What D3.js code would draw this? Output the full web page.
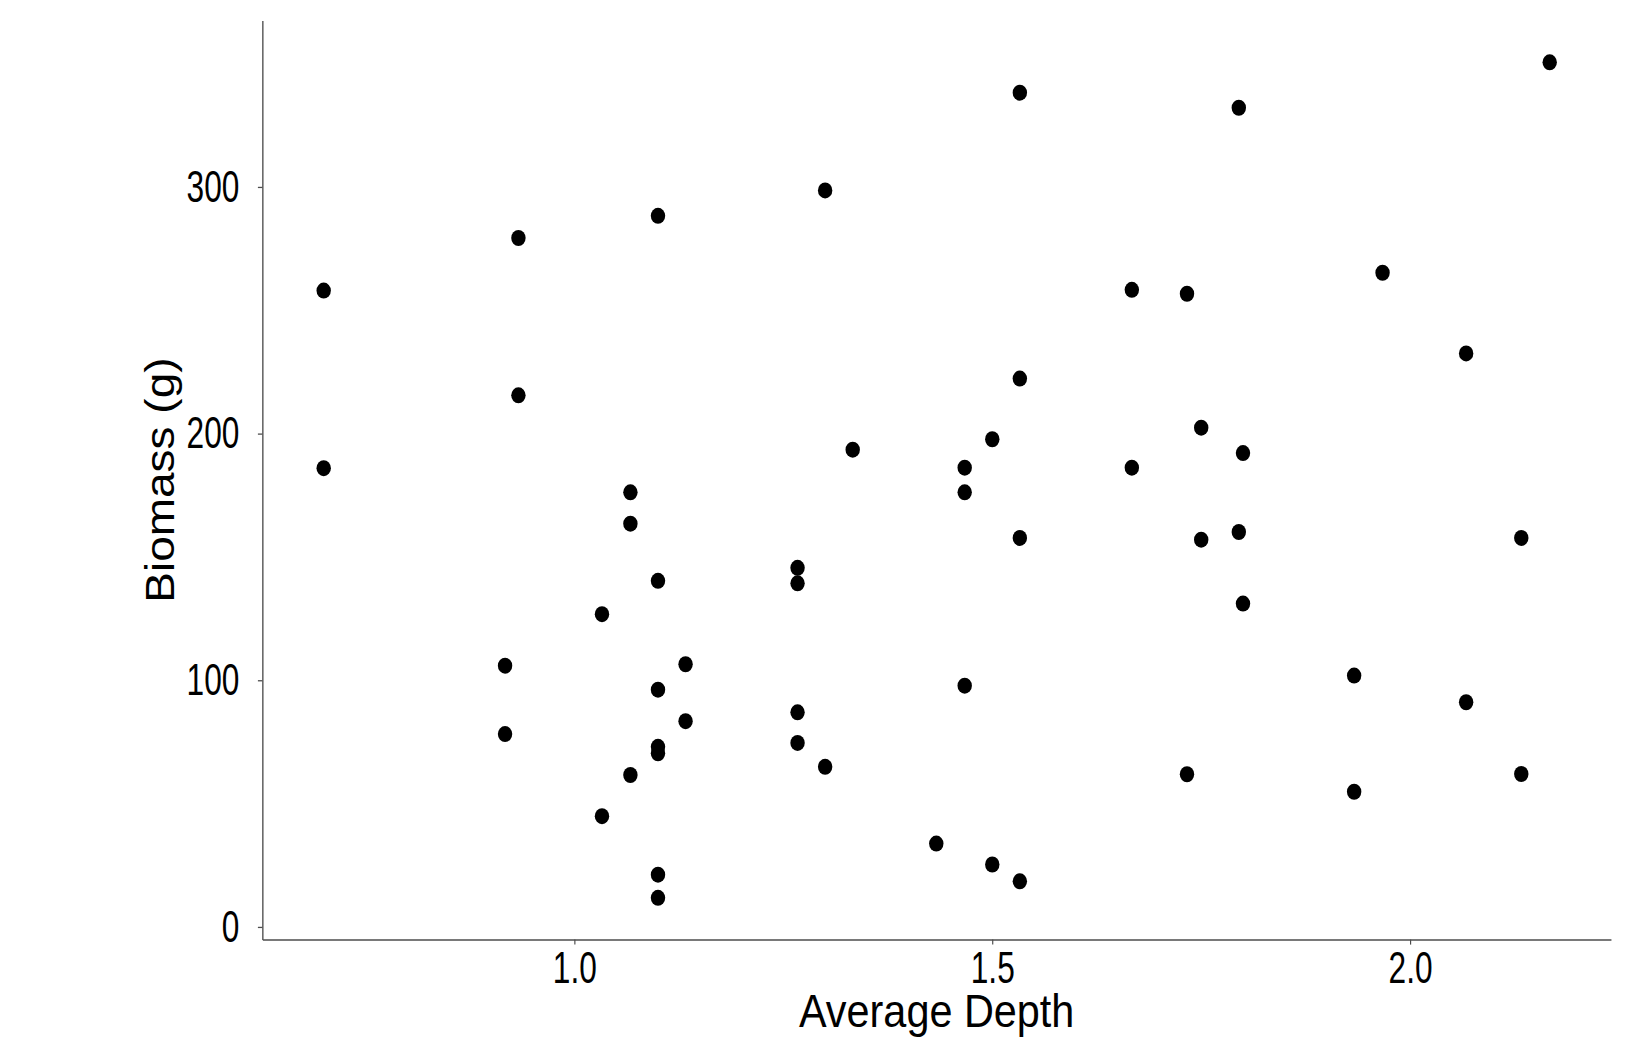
<!DOCTYPE html>
<html>
<head>
<meta charset="utf-8">
<script src="https://cdn.jsdelivr.net/npm/d3@7"></script>
<style>
  html, body { margin: 0; padding: 0; background: #fff; }
  text { font-family: "Liberation Sans", Arial, sans-serif; fill: #000; }
</style>
</head>
<body>
<div id="chart-area"></div>
<script>
// Values
const depth = [
  0.70, 0.70, 0.933, 0.933, 1.10,
  1.533, 1.30, 1.667, 1.533, 1.333, 1.467, 1.50, 1.667,
  2.167, 1.795, 1.967, 1.733, 2.067, 1.75, 1.80,
  1.067, 1.067, 1.10, 1.033, 0.917, 1.133, 1.10, 1.133, 0.917, 1.10, 1.10, 1.067, 1.033, 1.10, 1.10,
  1.467, 1.533, 1.267, 1.267, 1.467, 1.267, 1.267, 1.30, 1.433, 1.50, 1.533,
  1.75, 1.795, 2.133, 1.80, 1.933, 2.067, 1.733, 1.933, 2.133
];
const biomass = [
  258, 186, 279.3, 215.5, 288.3,
  338.2, 298.6, 258.3, 222.3, 193.5, 186.2, 197.7, 186.2,
  350.5, 332.1, 265.2, 256.7, 232.5, 202.4, 192.1,
  176.2, 163.5, 140.3, 126.8, 105.9, 106.5, 96.2, 83.4, 78.2, 73.0, 70.4, 61.6, 44.9, 21.2, 11.8,
  176.2, 157.7, 145.6, 139.3, 97.8, 87.0, 74.6, 64.9, 33.8, 25.3, 18.5,
  157.0, 160.1, 157.7, 131.1, 101.9, 91.1, 61.9, 54.8, 62.0
];
const xTicks = [1.0, 1.5, 2.0];
const yTicks = [0, 100, 200, 300];

const points = depth.map((d, i) => ({ x: d, y: biomass[i] }));

// The reference is slightly squeezed horizontally, so draw in a wider
// box and squash it into the page.
const squash = 0.9;
const tickSquash = 0.8; // tick labels look narrower still
const pageW = 1634, pageH = 1046;
const W = pageW / squash, H = pageH;
const margin = { top: 20.6, right: W - 1611 / squash, bottom: H - 939.6, left: 262.4 / squash };
const width = W - margin.left - margin.right;
const height = H - margin.top - margin.bottom;

const svg = d3.select("#chart-area")
  .append("svg")
  .attr("width", pageW)
  .attr("height", pageH)
  .attr("viewBox", `0 0 ${W} ${H}`)
  .attr("preserveAspectRatio", "none");

const g = svg.append("g").attr("transform", `translate(${margin.left},${margin.top})`);

// ggplot-like 5% expansion
function expand(ext) {
  const pad = (ext[1] - ext[0]) * 0.05;
  return [ext[0] - pad, ext[1] + pad];
}

const xScale = d3.scaleLinear().domain(expand(d3.extent(depth))).range([0, width]);
const yScale = d3.scaleLinear().domain(expand(d3.extent(biomass))).range([height, 0]);

const axisColor = "#4d4d4d";

// X axis
const xAxis = g.append("g")
  .attr("transform", `translate(0,${height})`)
  .call(d3.axisBottom(xScale).tickValues(xTicks).tickFormat(d3.format(".1f")).tickSize(5).tickSizeOuter(0).tickPadding(7));
xAxis.select(".domain").attr("stroke", axisColor).attr("stroke-width", 1.5);
xAxis.selectAll(".tick line").attr("stroke", axisColor).attr("stroke-width", 1.3);
xAxis.selectAll(".tick text")
  .attr("font-size", 44)
  .attr("fill", "#000")
  .attr("transform", `scale(${tickSquash},1)`);

// Y axis
const yAxis = g.append("g")
  .call(d3.axisLeft(yScale).tickValues(yTicks).tickSize(5).tickSizeOuter(0).tickPadding(27));
yAxis.select(".domain").attr("stroke", axisColor).attr("stroke-width", 1.5);
yAxis.selectAll(".tick line").attr("stroke", axisColor).attr("stroke-width", 1.3);
yAxis.selectAll(".tick text")
  .attr("font-size", 44)
  .attr("fill", "#000")
  .attr("transform", `scale(${tickSquash},1)`);

// Axis titles
g.append("text")
  .attr("x", width / 2)
  .attr("y", height + 87)
  .attr("text-anchor", "middle")
  .attr("font-size", 46)
  .text("Average Depth");

g.append("text")
  .attr("transform", `translate(${174 / squash - margin.left},${height / 2}) rotate(-90)`)
  .attr("text-anchor", "middle")
  .attr("font-size", 46)
  .text("Biomass (g)");

// Points
g.selectAll(".dot")
  .data(points)
  .enter()
  .append("circle")
  .attr("class", "dot")
  .attr("cx", (d) => xScale(d.x))
  .attr("cy", (d) => yScale(d.y))
  .attr("r", 8)
  .attr("fill", "#000");
</script>
</body>
</html>
